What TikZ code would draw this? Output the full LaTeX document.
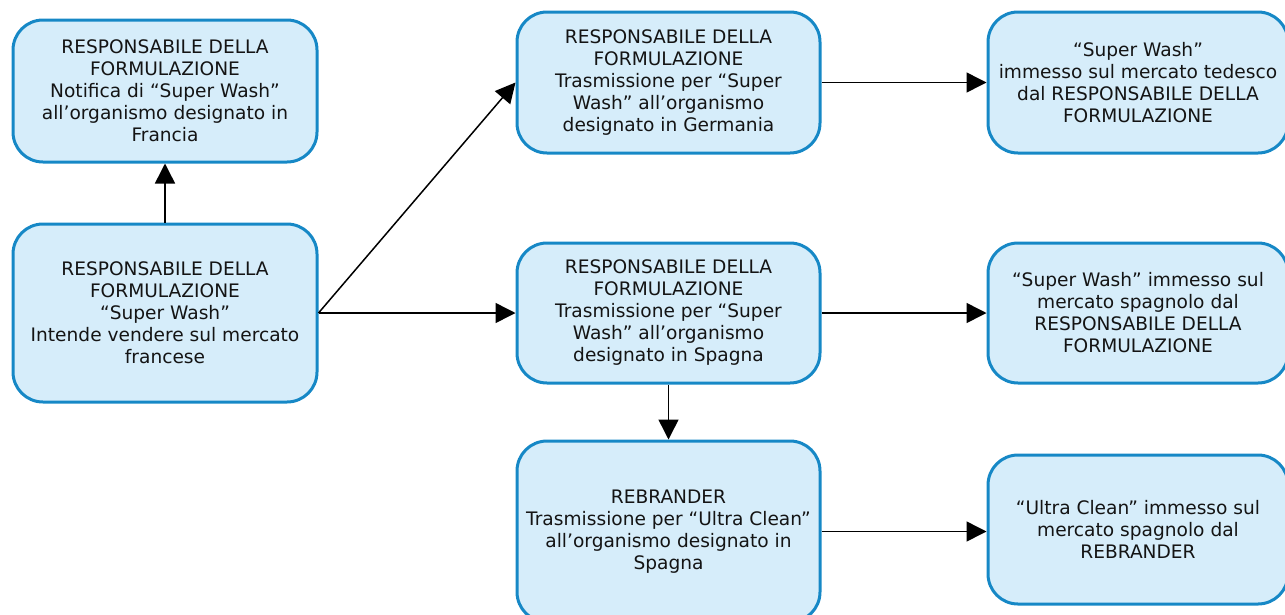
\documentclass[tikz,border=0pt]{standalone}
\usepackage{fontspec}
\setmainfont{DejaVu Sans}
\usetikzlibrary{arrows.meta}
\definecolor{boxfill}{RGB}{214,237,250}
\definecolor{boxdraw}{RGB}{22,136,198}
\definecolor{txt}{RGB}{20,20,20}
\begin{document}
\begin{tikzpicture}[x=1pt,y=-1pt,
  box/.style={draw=boxdraw, fill=boxfill, line width=3pt, rounded corners=30pt,
    align=center, text=txt, inner sep=0pt,
    font=\fontsize{18.6}{22}\selectfont},
  conn/.style={line width=1.5pt, -{Triangle[length=20pt,width=20pt]}}]
\useasboundingbox (0,0) rectangle (1285,614);
\node[box, minimum width=304pt, minimum height=142pt] (b1) at (165,91)
  {RESPONSABILE DELLA\\FORMULAZIONE\\Notifica di “Super Wash”\\all’organismo designato in\\Francia};
\node[box, minimum width=304pt, minimum height=178pt] (b2) at (165,313)
  {RESPONSABILE DELLA\\FORMULAZIONE\\“Super Wash”\\Intende vendere sul mercato\\francese};
\node[box, minimum width=303pt, minimum height=141pt] (b3) at (668.5,82.5)
  {RESPONSABILE DELLA\\FORMULAZIONE\\Trasmissione per “Super\\Wash” all’organismo\\designato in Germania};
\node[box, minimum width=300pt, minimum height=141pt] (b4) at (1138,82.5)
  {“Super Wash”\\immesso sul mercato tedesco\\dal RESPONSABILE DELLA\\FORMULAZIONE};
\node[box, minimum width=303pt, minimum height=140pt] (b5) at (668.5,313)
  {RESPONSABILE DELLA\\FORMULAZIONE\\Trasmissione per “Super\\Wash” all’organismo\\designato in Spagna};
\node[box, minimum width=300pt, minimum height=140pt] (b6) at (1138,313)
  {“Super Wash” immesso sul\\mercato spagnolo dal\\RESPONSABILE DELLA\\FORMULAZIONE};
\node[box, minimum width=303pt, minimum height=181pt] (b7) at (668.5,531.5)
  {REBRANDER\\Trasmissione per “Ultra Clean”\\all’organismo designato in\\Spagna};
\node[box, minimum width=300pt, minimum height=149pt] (b8) at (1138,529.5)
  {“Ultra Clean” immesso sul\\mercato spagnolo dal\\REBRANDER};
\draw[conn] (b2.north) -- (b1.south);
\draw[conn] (b2.east) -- (b3.west);
\draw[conn] (b2.east) -- (b5.west);
\draw[conn] (b3.east) -- (b4.west);
\draw[conn] (b5.east) -- (b6.west);
\draw[conn] (b5.south) -- (b7.north);
\draw[conn] (b7.east) -- (b7.east -| b8.west);
\end{tikzpicture}
\end{document}
